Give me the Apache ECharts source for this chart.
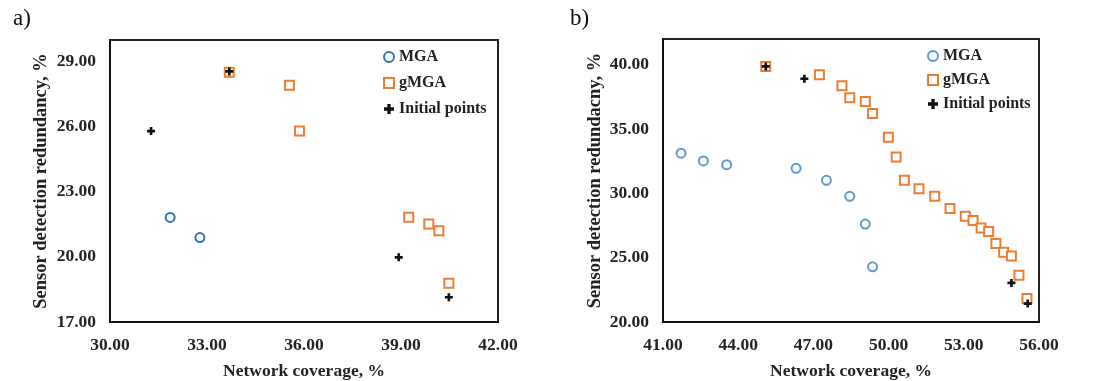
<!DOCTYPE html>
<html><head><meta charset="utf-8">
<script src="https://cdn.jsdelivr.net/npm/echarts@6/dist/echarts.min.js"></script>
<style>html,body{margin:0;padding:0;background:#fff}#c{width:1117px;height:381px}</style>
</head><body><div id="c"></div>
<script>
// Panel a data
const aMGA = [[31.86, 21.82], [32.78, 20.89]];
const aGMGA = [[33.69, 28.51], [35.55, 27.91], [35.86, 25.8], [39.24, 21.83], [39.86, 21.52], [40.17, 21.21], [40.48, 18.79]];
const aInit = [[31.27, 25.8], [33.69, 28.55], [38.93, 19.98], [40.48, 18.14]];
// Panel b data
const bMGA = [[41.72, 33.12], [42.61, 32.52], [43.54, 32.23], [46.31, 31.95], [47.52, 31.01], [48.45, 29.77], [49.07, 27.61], [49.36, 24.29]];
const bGMGA = [[45.10, 39.87], [47.24, 39.22], [48.14, 38.36], [48.45, 37.43], [49.07, 37.14], [49.36, 36.21], [49.99, 34.36], [50.30, 32.83], [50.63, 31.01], [51.21, 30.36], [51.84, 29.77], [52.45, 28.83], [53.06, 28.23], [53.37, 27.90], [53.69, 27.30], [53.99, 27.04], [54.28, 26.10], [54.59, 25.43], [54.90, 25.14], [55.20, 23.64], [55.52, 21.82]];
const bInit = [[45.10, 39.87], [46.64, 38.91], [54.90, 23.04], [55.55, 21.43]];
// Tick labels
const aXTicks = [30, 33, 36, 39, 42];
const aYTicks = [17, 20, 23, 26, 29];
const bXTicks = [41, 44, 47, 50, 53, 56];
const bYTicks = [20, 25, 30, 35, 40];
const legendNames = ['MGA', 'gMGA', 'Initial points'];

const FONT = '"Liberation Serif", "Times New Roman", serif';
const plus = 'path://M2,0H4V2H6V4H4V6H2V4H0V2H2Z';
const txt = {fontFamily: FONT, fontWeight: 'bold', color: '#222'};

function fmt(ticks) {
  return v => (Math.abs(v - Math.round(v)) < 1e-6 && ticks.indexOf(Math.round(v)) >= 0) ? v.toFixed(2) : '';
}
function xAxis(idx, min, max, ticks, name) {
  return {
    type: 'value', gridIndex: idx, min: min, max: max, interval: 1,
    name: name, nameLocation: 'middle', nameGap: 40,
    nameTextStyle: Object.assign({fontSize: 17.5}, txt),
    axisLine: {show: true, lineStyle: {color: '#111', width: 2}},
    axisTick: {show: false}, splitLine: {show: false},
    axisLabel: Object.assign({fontSize: 17.5, margin: 14, formatter: fmt(ticks)}, txt)
  };
}
function yAxis(idx, min, max, ticks, name, gap) {
  return {
    type: 'value', gridIndex: idx, min: min, max: max, interval: 1,
    name: name, nameLocation: 'middle', nameGap: gap, nameRotate: 90,
    nameTextStyle: Object.assign({fontSize: 18.5}, txt),
    axisLine: {show: true, lineStyle: {color: '#111', width: 2}},
    axisTick: {show: false}, splitLine: {show: false},
    axisLabel: Object.assign({fontSize: 17.5, margin: 14, formatter: fmt(ticks)}, txt)
  };
}
function sc(name, idx, data, symbol, color, size, bw, z) {
  return {
    name: name, type: 'scatter', xAxisIndex: idx, yAxisIndex: idx, data: data,
    symbol: symbol, symbolSize: size, z: z,
    itemStyle: symbol === plus ? {color: color, opacity: 1} : {color: color, borderColor: color, borderWidth: bw, opacity: 1},
    emphasis: {disabled: true}
  };
}

const chart = echarts.init(document.getElementById('c'), null, {renderer: 'canvas'});
chart.setOption({
  animation: false,
  backgroundColor: '#fff',
  title: [
    {text: 'a)', left: 8, top: 2, textStyle: {fontFamily: FONT, fontWeight: 'normal', fontSize: 23, color: '#111'}},
    {text: 'b)', left: 565, top: 2, textStyle: {fontFamily: FONT, fontWeight: 'normal', fontSize: 23, color: '#111'}}
  ],
  grid: [
    {left: 110, right: 619, top: 40, bottom: 59, show: true, borderColor: '#222', borderWidth: 2, outerBoundsMode: 'none', containLabel: false},
    {left: 663, right: 78, top: 39, bottom: 59, show: true, borderColor: '#222', borderWidth: 2, outerBoundsMode: 'none', containLabel: false}
  ],
  legend: [
    {data: legendNames, orient: 'vertical', left: 378, top: 44, itemGap: 10, itemWidth: 10, itemHeight: 10,
     textStyle: Object.assign({fontSize: 16}, txt), selectedMode: false},
    {data: legendNames.map(n => n + '_b'), orient: 'vertical', left: 922, top: 43, itemGap: 8, itemWidth: 10, itemHeight: 10,
     formatter: n => n.replace('_b', ''),
     textStyle: Object.assign({fontSize: 16}, txt), selectedMode: false}
  ],
  xAxis: [
    xAxis(0, 30, 42, aXTicks, 'Network coverage, %'),
    xAxis(1, 41, 56, bXTicks, 'Network coverage, %')
  ],
  yAxis: [
    yAxis(0, 17, 30, aYTicks, 'Sensor detection redundancy, %', 59),
    yAxis(1, 20, 42, bYTicks, 'Sensor detection redundacny, %', 58)
  ],
  series: [
    sc('MGA', 0, aMGA, 'emptyCircle', '#2e75b6', 9, 2.2, 3),
    sc('gMGA', 0, aGMGA, 'emptyRect', '#ed7d31', 9, 2, 2),
    sc('Initial points', 0, aInit, plus, '#111', 8, 0, 4),
    sc('MGA_b', 1, bMGA, 'emptyCircle', '#5b9bd5', 9, 1.8, 3),
    sc('gMGA_b', 1, bGMGA, 'emptyRect', '#ed7d31', 9, 2, 2),
    sc('Initial points_b', 1, bInit, plus, '#111', 8, 0, 4)
  ]
});
</script></body></html>
